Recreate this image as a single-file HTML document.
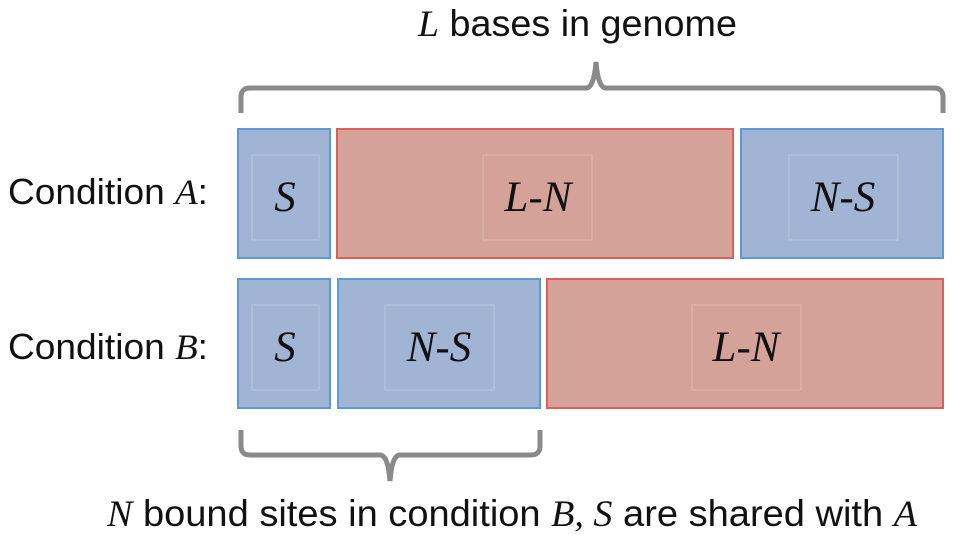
<!DOCTYPE html>
<html><head><meta charset="utf-8"><style>
body{margin:0;background:#fff;}
svg text{font-family:"Liberation Sans",sans-serif;fill:#111;}
.it{font-family:"Liberation Serif",serif;font-style:italic;}
</style></head><body>
<svg width="960" height="539" viewBox="0 0 960 539">
<text x="418" y="36" font-size="37" textLength="319" lengthAdjust="spacingAndGlyphs"><tspan class="it">L</tspan> bases in genome</text>
<path d="M241,113 V97 Q241,88 250,88 H586 Q594,88 596,62 Q598,88 606,88 H934 Q943,88 943,97 V113" fill="none" stroke="#8a8a8a" stroke-width="5"/>
<text x="8" y="204" font-size="36" textLength="200" lengthAdjust="spacingAndGlyphs">Condition <tspan class="it">A</tspan>:</text>
<text x="8" y="359" font-size="36" textLength="200" lengthAdjust="spacingAndGlyphs">Condition <tspan class="it">B</tspan>:</text>
<g stroke-width="2">
<rect x="238" y="129" width="92" height="129" fill="#a1b4d3" stroke="#5b9bd5"/>
<rect x="337" y="129" width="396" height="129" fill="#d5a29a" stroke="#dd5f5a"/>
<rect x="741" y="129" width="202" height="129" fill="#a1b4d3" stroke="#5b9bd5"/>
<rect x="238" y="279" width="92" height="129" fill="#a1b4d3" stroke="#5b9bd5"/>
<rect x="338" y="279" width="202" height="129" fill="#a1b4d3" stroke="#5b9bd5"/>
<rect x="547" y="279" width="396" height="129" fill="#d5a29a" stroke="#dd5f5a"/>
</g>
<g fill="none" stroke="#ffffff" stroke-opacity="0.25" stroke-width="1">
<rect x="252" y="155" width="67" height="85"/><rect x="483" y="155" width="109" height="85"/><rect x="789" y="155" width="109" height="85"/>
<rect x="252" y="305" width="67" height="85"/><rect x="385" y="305" width="109" height="85"/><rect x="692" y="305" width="109" height="85"/>
</g>
<g font-size="43" text-anchor="middle">
<text class="it" x="285" y="211">S</text>
<text class="it" x="538" y="211">L-N</text>
<text class="it" x="843" y="211">N-S</text>
<text class="it" x="285" y="361">S</text>
<text class="it" x="439" y="361">N-S</text>
<text class="it" x="746" y="361">L-N</text>
</g>
<path d="M241,430 V446 Q241,455 250,455 H380 Q388,455 390,481 Q392,455 400,455 H531 Q540,455 540,446 V430" fill="none" stroke="#8a8a8a" stroke-width="5"/>
<text x="107" y="526" font-size="37" textLength="810" lengthAdjust="spacingAndGlyphs"><tspan class="it">N</tspan> bound sites in condition <tspan class="it">B, S</tspan> are shared with <tspan class="it">A</tspan></text>
</svg>
</body></html>
